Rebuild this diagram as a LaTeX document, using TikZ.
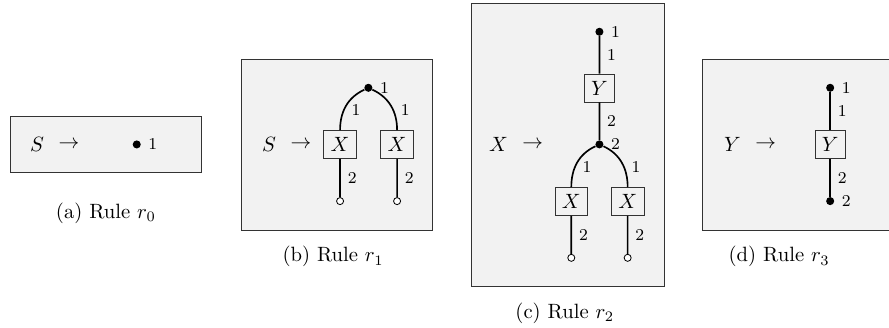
\documentclass[tikz,border=0pt]{standalone}
\usepackage{amsmath,amssymb}
\usetikzlibrary{positioning}
\tikzset{
	panel/.style={draw=black!80, fill=black!5},
	term/.style={draw=black!80},
	port/.style={circle, fill, inner sep=0pt, minimum size=3.9pt},
	hole/.style={circle, draw, fill=white, inner sep=0pt, minimum size=3.4pt},
	wire/.style={thick},
	lab/.style={font=\footnotesize},
}
\begin{document}
\begin{tikzpicture}
	\useasboundingbox (0,0) rectangle (15.11,5.56);
	\draw[panel] (0.17,2.623) rectangle (3.43,3.587);
	\draw[panel] (4.097,1.649) rectangle (7.349,4.551);
	\draw[panel] (8.019,0.697) rectangle (11.288,5.503);
	\draw[panel] (11.939,1.649) rectangle (15.4,4.551);

	\node (a-lhs) at (0.63,3.105) {$S$};
	\node (a-arr) [right=0pt of a-lhs] {$\rightarrow$};
	\node[port, label={[lab]right:1}] (a-v1) at (2.324,3.105) {};
	\node (a-cap) at (1.8,1.938) {(a) Rule $r_0$};

	\node (b-lhs) at (4.573,3.106) {$S$};
	\node (b-arr) [right=0pt of b-lhs] {$\rightarrow$};
	\node[port, label={[lab]right:1}] (b-v1) at (6.261,4.068) {};
	\node[term] (b-x1) at (5.78,3.106) {$X$};
	\node[term] (b-x2) at (6.749,3.106) {$X$};
	\node[hole] (b-h1) at (5.78,2.142) {};
	\node[hole] (b-h2) at (6.749,2.142) {};
	\node (b-cap) at (5.661,1.195) {(b) Rule $r_1$};
	\draw[wire]
	(b-v1) to[out=205,in=90] node[lab,right,pos=0.6] {1} (b-x1.north)
	(b-v1) to[out=-25,in=90] node[lab,right,pos=0.6] {1} (b-x2.north)
	(b-x1) -- node[lab,right] {2} (b-h1)
	(b-x2) -- node[lab,right] {2} (b-h2)
	;

	\node (c-lhs) at (8.471,3.106) {$X$};
	\node (c-arr) [right=0pt of c-lhs] {$\rightarrow$};
	\node[port, label={[lab]right:1}] (c-v1) at (10.188,5.02) {};
	\node[term] (c-y) at (10.188,4.063) {$Y$};
	\node[port, label={[lab]right:2}] (c-v2) at (10.188,3.106) {};
	\node[term] (c-x1) at (9.71,2.134) {$X$};
	\node[term] (c-x2) at (10.668,2.134) {$X$};
	\node[hole] (c-h1) at (9.71,1.178) {};
	\node[hole] (c-h2) at (10.668,1.178) {};
	\node (c-cap) at (9.6,0.238) {(c) Rule $r_2$};
	\draw[wire]
	(c-v1) -- node[lab,right] {1} (c-y)
	(c-y) -- node[lab,right] {2} (c-v2)
	(c-v2) to[out=205,in=90] node[lab,right,pos=0.6] {1} (c-x1.north)
	(c-v2) to[out=-25,in=90] node[lab,right,pos=0.6] {1} (c-x2.north)
	(c-x1) -- node[lab,right] {2} (c-h1)
	(c-x2) -- node[lab,right] {2} (c-h2)
	;

	\node (d-lhs) at (12.449,3.106) {$Y$};
	\node (d-arr) [right=0pt of d-lhs] {$\rightarrow$};
	\node[port, label={[lab]right:1}] (d-v1) at (14.11,4.068) {};
	\node[term] (d-y) at (14.11,3.106) {$Y$};
	\node[port, label={[lab]right:2}] (d-v2) at (14.11,2.142) {};
	\node (d-cap) at (13.243,1.195) {(d) Rule $r_3$};
	\draw[wire]
	(d-v1) -- node[lab,right] {1} (d-y)
	(d-y) -- node[lab,right] {2} (d-v2)
	;
\end{tikzpicture}
\end{document}
